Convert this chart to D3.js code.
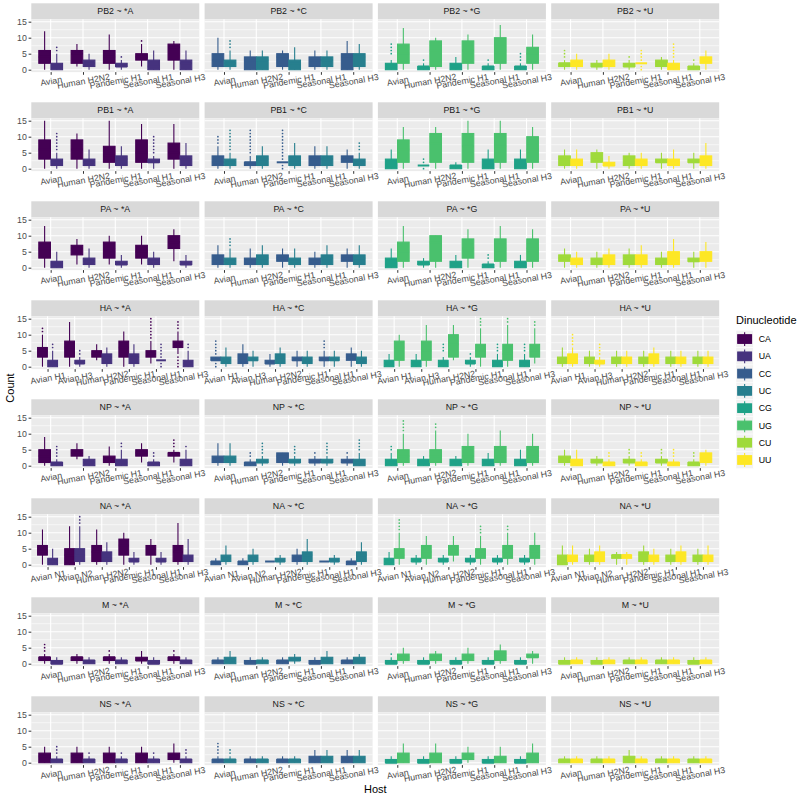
<!DOCTYPE html>
<html><head><meta charset="utf-8">
<script src="https://cdn.jsdelivr.net/npm/d3@7"></script>
<style>body{margin:0;background:#fff} text{font-family:"Liberation Sans",Arial,sans-serif}</style>
</head><body><svg id="c" width="800" height="803"></svg>
<script>
const segments = ["PB2","PB1","PA","HA","NP","NA","M","NS"];
const ends = ["A","C","G","U"];
const dinucs = ["CA","UA","CC","UC","CG","UG","CU","UU"];
const colors = ["#440154","#46337E","#365C8D","#277F8E","#1FA187","#4AC16D","#9FDA3A","#FDE725"];
const hostsStd = ["Avian","Human H2N2","Pandemic H1","Seasonal H1","Seasonal H3"];
const hostsHA = ["Avian H1","Avian H3","Human H2N2","Pandemic H1","Seasonal H1","Seasonal H3"];
const hostsNA = ["Avian N1","Avian N2","Human H2N2","Pandemic H1","Seasonal H1","Seasonal H3"];
const yTicks = [0,5,10,15];
// each entry: [lower whisker, Q1, median, Q3, upper whisker, outliers]; order: host1 (C?,U?), host2 (C?,U?), ...
const PB2_A = [[0,2,4,6,12,[]],[0,0,1,2,5,[6,7]],[1,2,5,6,8,[]],[0,1,2,3,5,[]],[0,2,4,6,11,[]],[0,1,1,2,3,[4]],[1,3,4,5,8,[9]],[0,0,1,3,6,[]],[0,3,7,8,9,[]],[0,0,2,3,6,[]]];
const PB2_C = [[0,1,3,5,10,[]],[0,1,2,3,6,[7,8,9]],[0,0,3,4,6,[]],[0,0,3,4,6,[]],[0,1,4,5,6,[]],[0,0,2,3,7,[]],[0,1,3,4,6,[]],[0,1,3,4,6,[]],[0,0,4,5,9,[]],[0,1,4,5,8,[]]];
const PB2_G = [[0,0,1,2,3,[5,6,7,8]],[0,2,5,8,13,[]],[0,0,1,1,2,[3]],[0,1,6,9,10,[]],[0,0,1,2,4,[]],[0,2,6,9,11,[]],[0,0,1,1,2,[3]],[0,2,6,10,14,[]],[0,0,1,1,2,[3,4,5]],[0,2,5,7,11,[]]];
const PB2_U = [[0,1,2,2,3,[4,5,6]],[0,1,2,3,5,[]],[0,1,1,2,3,[]],[0,1,2,3,5,[]],[0,1,1,2,3,[4]],[2,2,2,2,2,[0,1,3,4,5,6]],[0,1,2,3,4,[]],[0,0,1,2,3,[4,5,6,7,8]],[0,0,1,1,2,[3]],[0,2,3,4,6,[]]];
const PB1_A = [[0,3,6,9,15,[]],[0,1,2,3,5,[6,7,8,9,10,11]],[0,3,6,9,11,[]],[0,1,2,3,6,[]],[0,2,4,7,15,[]],[0,1,3,4,7,[]],[0,2,5,9,14,[]],[0,2,2,3,4,[5,6,7,8,9,10]],[0,3,5,8,14,[]],[0,1,3,4,8,[]]];
const PB1_C = [[0,1,2,4,7,[8,9,10]],[0,1,2,3,5,[6,7,8,9,10,11,12]],[0,1,2,2,4,[5,6,7,8,9,10,11,12]],[0,1,3,4,7,[]],[2,2,2,2,2,[0,1,3,4,5,6,7,8,9,10,11,12]],[0,1,2,4,8,[]],[0,1,3,4,7,[]],[0,1,3,4,7,[]],[0,2,3,4,6,[]],[0,1,2,3,5,[6,7,8]]];
const PB1_G = [[0,0,1,3,6,[]],[0,2,6,9,13,[]],[1,1,1,1,1,[0,2,3]],[0,2,8,11,13,[]],[0,0,1,1,2,[]],[0,2,7,11,15,[]],[0,0,1,3,6,[]],[0,2,7,11,15,[]],[0,0,1,3,6,[]],[0,2,6,10,13,[]]];
const PB1_U = [[0,1,3,4,6,[]],[0,1,2,3,6,[]],[0,2,3,5,6,[]],[0,1,1,2,4,[]],[0,1,2,4,5,[]],[0,1,2,3,5,[]],[0,2,2,3,5,[]],[0,1,2,3,6,[]],[0,2,2,3,5,[]],[0,1,2,4,8,[]]];
const PA_A = [[0,3,6,8,13,[]],[0,0,1,2,5,[]],[1,4,6,7,9,[]],[0,1,2,3,6,[]],[1,3,6,8,10,[]],[0,1,1,2,4,[]],[1,3,5,7,10,[]],[0,1,2,3,5,[]],[2,6,8,10,12,[]],[0,1,1,2,4,[]]];
const PA_C = [[0,1,2,4,7,[]],[0,1,2,3,6,[7,8,9]],[0,1,2,3,6,[]],[0,1,3,4,7,[]],[0,2,3,4,6,[]],[0,1,2,3,6,[]],[0,1,2,3,5,[]],[0,1,3,4,7,[]],[0,2,3,4,6,[]],[0,1,3,4,7,[]]];
const PA_G = [[0,0,1,3,6,[]],[0,2,5,8,13,[]],[0,1,1,2,3,[]],[0,2,8,10,10,[]],[0,0,1,2,4,[]],[0,3,6,9,12,[]],[0,0,1,1,2,[3,4]],[0,2,6,9,13,[]],[0,0,1,2,4,[]],[0,2,6,9,12,[]]];
const PA_U = [[0,2,3,4,6,[]],[0,1,2,3,5,[]],[0,1,2,3,5,[]],[0,1,2,4,6,[]],[0,1,3,4,6,[]],[0,1,2,4,7,[]],[0,1,2,3,5,[]],[0,1,3,5,9,[]],[0,2,2,3,5,[]],[0,2,4,5,8,[]]];
const HA_A = [[0,3,5,6,10,[11,12]],[0,0,1,2,5,[6,7]],[0,3,6,8,14,[]],[0,1,1,2,3,[4,5]],[2,3,4,5,7,[]],[0,1,3,4,6,[]],[0,3,6,8,11,[]],[0,1,3,4,7,[]],[1,3,4,5,8,[9,10,11,12,13,14,15]],[2,2,2,2,2,[0,1,3,4,5,6,7]],[4,6,7,8,11,[0,1,2,3,12,13,14]],[0,0,1,2,5,[6,7]]];
const HA_C = [[2,2,2,3,3,[0,1,4,5,6,7,8]],[0,1,2,3,6,[]],[0,1,2,4,7,[]],[0,2,2,3,5,[]],[0,1,1,2,4,[]],[0,1,3,4,6,[]],[0,2,2,3,5,[]],[0,1,2,3,5,[]],[0,2,2,3,5,[6,7,8]],[0,2,2,3,5,[]],[0,2,3,4,6,[]],[0,1,2,3,5,[]]];
const HA_G = [[0,0,1,2,4,[]],[0,2,6,8,10,[]],[0,0,1,2,4,[]],[0,2,5,8,13,[]],[0,0,1,2,3,[5,6,7]],[2,3,7,10,13,[]],[0,1,1,2,3,[4]],[0,3,5,7,12,[13,14,15]],[0,0,1,2,4,[5,6,7]],[0,2,4,7,13,[14,15]],[0,0,1,2,4,[5,6,7]],[1,3,5,7,12,[13,14]]];
const HA_U = [[0,1,2,3,6,[]],[0,1,2,4,6,[7,8,9,10]],[0,1,2,3,5,[]],[0,1,1,2,3,[4,5,6,7]],[0,1,2,3,5,[]],[0,1,2,3,5,[]],[0,1,2,3,5,[]],[0,1,2,4,6,[]],[0,1,2,3,5,[]],[0,1,2,3,5,[]],[0,1,2,3,5,[]],[0,1,2,3,5,[]]];
const NP_A = [[0,1,3,5,9,[]],[0,0,1,1,2,[3,4,5,6]],[2,3,4,5,7,[]],[0,0,1,2,3,[]],[0,1,2,3,6,[]],[0,0,1,2,5,[6,7]],[1,3,4,5,7,[]],[0,0,1,1,2,[3,4]],[1,3,4,4,5,[6,7,8]],[0,0,1,2,5,[6]]];
const NP_C = [[0,1,2,3,7,[]],[0,1,2,3,7,[]],[0,0,1,1,2,[3,4]],[0,1,1,2,3,[4,5,6,7]],[0,1,3,4,4,[]],[0,1,1,2,3,[4,5,6]],[0,1,1,2,3,[4]],[0,1,1,2,3,[4,5,6,7]],[0,1,1,2,3,[4]],[0,0,1,2,4,[5,6,7,8]]];
const NP_G = [[0,0,1,2,4,[5,6]],[0,1,3,5,10,[11,12,13,14]],[0,0,1,2,3,[]],[0,1,3,5,11,[12,13]],[0,0,1,2,3,[]],[0,1,3,6,10,[]],[0,0,1,2,4,[]],[0,1,3,6,11,[]],[0,0,1,2,5,[]],[0,1,3,6,10,[]]];
const NP_U = [[0,1,2,3,5,[]],[0,0,1,2,5,[]],[0,1,1,2,3,[]],[0,0,1,1,2,[3,4]],[0,1,1,2,3,[4,5]],[0,0,1,1,2,[3,4]],[0,1,1,2,3,[4,5]],[0,0,1,1,2,[3,4,5]],[0,0,1,1,2,[3,4]],[0,1,2,4,5,[]]];
const NA_A = [[0,3,4,6,11,[]],[0,0,1,2,5,[]],[0,0,3,5,12,[]],[0,1,3,5,12,[13,14,15]],[0,1,4,6,11,[]],[0,1,2,4,7,[]],[0,3,6,8,10,[]],[0,1,1,2,4,[]],[0,3,5,6,8,[]],[0,1,1,2,4,[]],[0,1,4,6,13,[]],[0,1,2,3,8,[]]];
const NA_C = [[0,0,1,1,2,[]],[0,1,2,3,6,[]],[0,0,1,1,2,[]],[0,1,2,3,5,[]],[1,1,1,1,1,[]],[0,1,1,2,3,[]],[0,1,2,3,5,[]],[0,1,3,4,8,[]],[1,1,1,1,1,[]],[0,1,1,2,3,[]],[0,0,1,1,2,[]],[0,1,3,4,7,[]]];
const NA_G = [[0,0,1,2,4,[]],[0,2,3,5,10,[11,12,13,14]],[0,1,1,2,3,[]],[0,2,4,6,9,[]],[0,1,1,2,3,[]],[1,3,5,6,9,[]],[0,1,1,2,3,[]],[0,2,4,5,9,[10,11,12]],[0,1,1,2,3,[]],[0,2,4,6,10,[11,12]],[0,1,1,2,3,[]],[0,2,4,6,10,[]]];
const NA_U = [[0,0,2,3,6,[]],[0,1,2,3,6,[]],[0,1,2,3,5,[]],[0,1,3,4,6,[]],[0,2,3,3,4,[]],[0,2,3,3,4,[]],[0,1,3,4,6,[]],[0,1,2,3,5,[]],[0,1,2,3,5,[]],[0,1,3,4,6,[]],[0,1,2,3,5,[]],[0,1,2,3,6,[]]];
const M_A = [[0,1,2,2,3,[4,5,6]],[0,0,0,1,2,[]],[0,1,2,2,3,[]],[0,0,1,1,2,[]],[0,1,2,2,3,[4]],[0,0,1,1,2,[]],[0,1,1,2,4,[]],[0,0,0,1,2,[]],[0,1,2,2,3,[4]],[0,0,1,1,2,[]]];
const M_C = [[0,0,1,1,2,[]],[0,0,1,2,4,[]],[0,0,0,1,2,[]],[0,0,1,1,2,[]],[0,0,1,1,2,[]],[0,1,1,2,3,[]],[0,0,0,1,2,[]],[0,0,1,2,4,[]],[0,0,1,1,2,[]],[0,0,1,2,3,[]]];
const M_G = [[0,0,0,1,2,[3]],[0,1,2,3,5,[]],[0,0,0,1,2,[]],[0,1,2,3,4,[]],[0,0,0,1,2,[]],[0,1,2,3,5,[]],[0,0,0,1,2,[]],[0,1,3,4,6,[]],[0,0,0,1,2,[]],[0,2,2,3,4,[]]];
const M_U = [[0,0,0,1,2,[]],[0,0,1,1,2,[]],[0,0,0,1,2,[]],[0,0,1,1,2,[]],[0,0,1,1,2,[]],[0,0,1,1,2,[]],[0,0,1,1,2,[]],[0,0,1,1,2,[]],[0,0,0,1,2,[]],[0,0,1,1,2,[]]];
const NS_A = [[0,0,2,3,5,[]],[0,0,1,1,2,[3,4,5]],[0,0,2,3,5,[]],[0,0,1,1,2,[3]],[0,0,2,3,5,[]],[0,0,1,1,2,[3]],[0,0,2,3,5,[]],[0,0,1,1,2,[3]],[0,1,2,3,6,[]],[0,0,1,1,2,[3,4]]];
const NS_C = [[0,0,1,1,2,[3,4,5,6]],[0,0,1,1,2,[3,4]],[0,0,1,1,2,[]],[0,0,1,1,2,[]],[0,0,1,1,2,[]],[0,0,1,1,2,[]],[0,0,1,2,4,[]],[0,0,1,2,4,[]],[0,0,1,2,4,[]],[0,0,1,2,4,[]]];
const NS_G = [[0,0,0,1,2,[]],[0,0,1,3,6,[]],[0,0,0,1,2,[]],[0,0,1,3,6,[]],[0,0,0,1,2,[]],[0,1,2,3,5,[]],[0,0,0,1,2,[]],[0,0,1,2,5,[]],[0,0,0,1,2,[]],[0,0,1,3,6,[]]];
const NS_U = [[0,0,1,1,2,[]],[0,0,1,1,2,[]],[0,0,1,1,2,[]],[0,0,1,1,2,[]],[0,0,1,2,4,[]],[0,0,1,1,2,[]],[0,0,1,1,2,[]],[0,0,1,1,2,[]],[0,0,1,1,2,[]],[0,0,1,1,2,[]]];

const rows = [
  {hosts: hostsStd, data: [PB2_A, PB2_C, PB2_G, PB2_U]},
  {hosts: hostsStd, data: [PB1_A, PB1_C, PB1_G, PB1_U]},
  {hosts: hostsStd, data: [PA_A, PA_C, PA_G, PA_U]},
  {hosts: hostsHA, data: [HA_A, HA_C, HA_G, HA_U]},
  {hosts: hostsStd, data: [NP_A, NP_C, NP_G, NP_U]},
  {hosts: hostsNA, data: [NA_A, NA_C, NA_G, NA_U]},
  {hosts: hostsStd, data: [M_A, M_C, M_G, M_U]},
  {hosts: hostsStd, data: [NS_A, NS_C, NS_G, NS_U]}
];

const svg = d3.select("#c");
svg.append("rect").attr("width",800).attr("height",803).attr("fill","#fff");
const X0 = 31.3, COLSTEP = 173.3, PW = 168, ROWSTEP = 99, STRIP_TOP = 3.3, STRIP_H = 16, PH = 52.8;

rows.forEach((row, r) => {
  row.data.forEach((boxes, c) => {
    const x0 = X0 + c*COLSTEP, top = STRIP_TOP + r*ROWSTEP, pt = top + STRIP_H, pb = pt + PH;
    const g = svg.append("g");
    g.append("rect").attr("x",x0).attr("y",top).attr("width",PW).attr("height",STRIP_H).attr("fill","#D9D9D9");
    g.append("text").attr("x",x0+PW/2).attr("y",top+STRIP_H/2).attr("dy","0.35em")
      .attr("text-anchor","middle").attr("font-size",8.8).attr("fill","#1A1A1A")
      .text(`${segments[r]} ~ *${ends[c]}`);
    g.append("rect").attr("x",x0).attr("y",pt).attr("width",PW).attr("height",PH).attr("fill","#EBEBEB");
    const x = d3.scalePoint().domain(row.hosts).range([x0, x0+PW]).padding(0.6);
    const y = d3.scaleLinear().domain([-0.75,15.75]).range([pb, pt]);
    const step = x.step();
    [2.5,7.5,12.5].forEach(v => g.append("line").attr("x1",x0).attr("x2",x0+PW).attr("y1",y(v)).attr("y2",y(v)).attr("stroke","#fff").attr("stroke-width",0.55));
    yTicks.forEach(v => g.append("line").attr("x1",x0).attr("x2",x0+PW).attr("y1",y(v)).attr("y2",y(v)).attr("stroke","#fff").attr("stroke-width",1.1));
    row.hosts.forEach(h => g.append("line").attr("x1",x(h)).attr("x2",x(h)).attr("y1",pt).attr("y2",pb).attr("stroke","#fff").attr("stroke-width",1.1));
    row.hosts.forEach((h, i) => {
      [0,1].forEach(k => {
        const s = boxes[i*2+k];
        const col = colors[c*2+k];
        const cx = x(h) + (k === 0 ? -1 : 1) * step * 0.1875;
        const bw = step * 0.36;
        g.append("line").attr("x1",cx).attr("x2",cx).attr("y1",y(s[0])).attr("y2",y(s[4])).attr("stroke",col).attr("stroke-width",1.1);
        g.append("rect").attr("x",cx-bw/2).attr("width",bw).attr("y",y(s[3])).attr("height",y(s[1])-y(s[3]))
          .attr("fill",col).attr("stroke",col).attr("stroke-width",1.1);
        g.append("line").attr("x1",cx-bw/2).attr("x2",cx+bw/2).attr("y1",y(s[2])).attr("y2",y(s[2])).attr("stroke",col).attr("stroke-width",2);
        s[5].forEach(o => g.append("circle").attr("cx",cx).attr("cy",y(o)).attr("r",0.85).attr("fill",col));
      });
    });
    const ax = g.append("g").attr("transform",`translate(0,${pb})`).call(d3.axisBottom(x).tickSize(2.7).tickPadding(0));
    ax.select(".domain").remove();
    ax.selectAll(".tick line").attr("stroke","#333333").attr("stroke-width",1);
    ax.selectAll(".tick text").attr("y",0).attr("dy","0.35em").attr("font-size",8.8).attr("fill","#4D4D4D")
      .attr("font-family","'Liberation Sans',Arial,sans-serif")
      .attr("text-anchor","middle").attr("transform","translate(0,9) rotate(-10)");
    if (c === 0) {
      const ay = g.append("g").attr("transform",`translate(${x0},0)`).call(d3.axisLeft(y).tickValues(yTicks).tickSize(2.7).tickPadding(1.7));
      ay.select(".domain").remove();
      ay.selectAll(".tick line").attr("stroke","#333333").attr("stroke-width",1);
      ay.selectAll(".tick text").attr("font-size",8.8).attr("fill","#4D4D4D").attr("font-family","'Liberation Sans',Arial,sans-serif");
    }
  });
});

svg.append("text").attr("x",X0+(3*COLSTEP+PW)/2).attr("y",793).attr("text-anchor","middle").attr("font-size",11).attr("fill","#000").text("Host");
svg.append("text").attr("transform","translate(14,388) rotate(-90)").attr("text-anchor","middle").attr("font-size",11).attr("fill","#000").text("Count");

const KS = 17.28, KX = 736, KY = 330.4;
const lg = svg.append("g");
lg.append("text").attr("x",KX).attr("y",KY-6).attr("font-size",11).attr("fill","#000").text("Dinucleotide");
dinucs.forEach((d, i) => {
  const ky = KY + i*KS;
  lg.append("rect").attr("x",KX).attr("y",ky).attr("width",KS).attr("height",KS).attr("fill","#F2F2F2").attr("stroke","#fff").attr("stroke-width",0.5);
  lg.append("line").attr("x1",KX+KS/2).attr("x2",KX+KS/2).attr("y1",ky+0.1*KS).attr("y2",ky+0.9*KS).attr("stroke",colors[i]).attr("stroke-width",1.1);
  lg.append("rect").attr("x",KX+0.1*KS).attr("y",ky+0.25*KS).attr("width",0.8*KS).attr("height",0.5*KS).attr("fill",colors[i]).attr("stroke",colors[i]).attr("stroke-width",1.1);
  lg.append("text").attr("x",KX+KS+5.5).attr("y",ky+KS/2).attr("dy","0.35em").attr("font-size",8.8).attr("fill","#000").text(d);
});
</script></body></html>
